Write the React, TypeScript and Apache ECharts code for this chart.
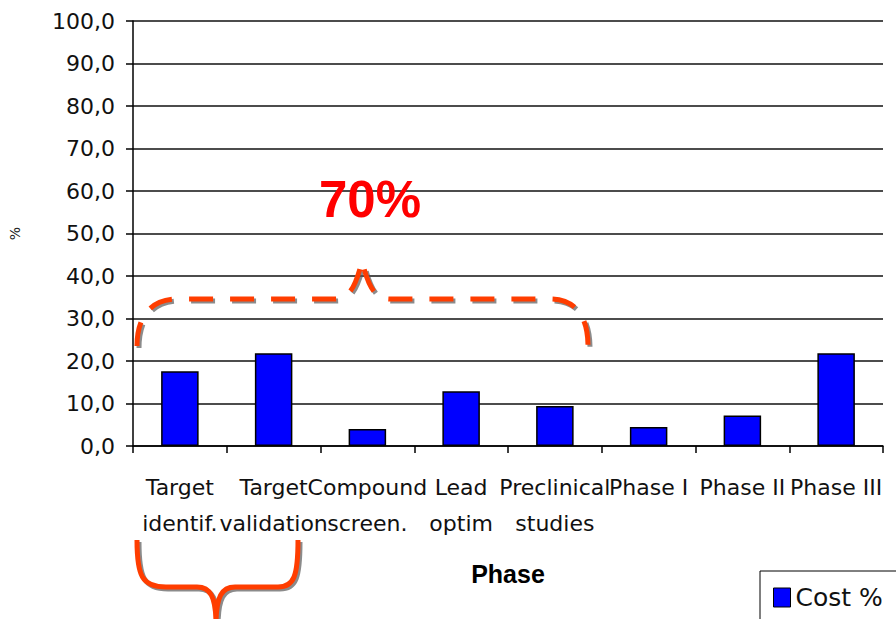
import React, { useEffect, useRef } from "react";
import * as echarts from "echarts";

// Drug discovery cost share per phase
const phases = [
  "Target\nidentif.",
  "Target\nvalidation",
  "Compound\nscreen.",
  "Lead\noptim",
  "Preclinical\nstudies",
  "Phase I",
  "Phase II",
  "Phase III",
];
const costPct = [17.6, 21.8, 4.0, 12.9, 9.4, 4.5, 7.2, 21.8];
const seriesName = "Cost %";
const yTicks = { min: 0, max: 100, step: 10 };
const bracketLabel = "70%";

// Curly brace over the early research phases (dashed) and the one under the first two labels
const TOP_BRACE =
  "M137,346 C137,320 148,299 178,299 L335,299 C350,299 356,285 362,261 C368,285 374,299 390,299 L550,299 C578,299 588,320 588,346";
const BOTTOM_BRACE =
  "M137,540 C137,576 142,587 166,587 L197,587 C210,587 216,596 216,625 M216,625 C216,596 222,587 235,587 L278,587 C294,587 298,576 298,540";

echarts.graphic.registerShape("topBrace", echarts.graphic.extendPath(TOP_BRACE, {}) as any);
echarts.graphic.registerShape("bottomBrace", echarts.graphic.extendPath(BOTTOM_BRACE, {}) as any);

const FONT = "'DejaVu Sans', 'Liberation Sans', Arial, sans-serif";
const BOLD_FONT = "'Liberation Sans', Arial, sans-serif";
const BRACE_COLOR = "#FF3D00";

export default function App() {
  const ref = useRef<HTMLDivElement>(null);

  useEffect(() => {
    if (!ref.current) return;
    const chart = echarts.init(ref.current, undefined, { renderer: "svg" });
    chart.setOption({
      animation: false,
      backgroundColor: "#ffffff",
      textStyle: { fontFamily: FONT },
      grid: { left: 131, top: 21, right: 13, bottom: 173, containLabel: false },
      legend: {
        left: 760,
        top: 571,
        orient: "vertical",
        borderColor: "#000",
        borderWidth: 1,
        padding: [14, 30, 20, 13],
        icon: "rect",
        itemWidth: 17,
        itemHeight: 19,
        itemGap: 6,
        itemStyle: { borderColor: "#000", borderWidth: 1 },
        textStyle: { fontFamily: FONT, fontSize: 25, color: "#111" },
        data: [seriesName],
      },
      xAxis: {
        type: "category",
        data: phases,
        name: "Phase",
        nameLocation: "middle",
        nameGap: 128,
        nameTextStyle: {
          fontFamily: BOLD_FONT,
          fontSize: 25,
          fontWeight: "bold",
          color: "#000",
          verticalAlign: "middle",
        },
        axisLine: { lineStyle: { color: "#000", width: 1.5 } },
        axisTick: { show: true, length: 7, lineStyle: { color: "#000", width: 1.5 } },
        axisLabel: {
          interval: 0,
          margin: 23,
          fontFamily: FONT,
          fontSize: 22,
          lineHeight: 36,
          color: "#111",
        },
        splitLine: { show: false },
      },
      yAxis: {
        type: "value",
        min: yTicks.min,
        max: yTicks.max,
        interval: yTicks.step,
        name: "%",
        nameLocation: "middle",
        nameRotate: 90,
        nameGap: 111,
        nameTextStyle: { fontFamily: FONT, fontSize: 14, color: "#222" },
        axisLine: { show: true, lineStyle: { color: "#000", width: 1.5 } },
        axisTick: { show: true, length: 7, lineStyle: { color: "#000", width: 1.5 } },
        axisLabel: {
          margin: 18,
          fontFamily: FONT,
          fontSize: 22,
          color: "#111",
          formatter: (v: number) => v.toFixed(1).replace(".", ","),
        },
        splitLine: { show: true, lineStyle: { color: "#111", width: 1.5 } },
      },
      series: [
        {
          name: seriesName,
          type: "bar",
          data: costPct,
          barWidth: "40%",
          itemStyle: { color: "#0000FF", borderColor: "#000", borderWidth: 1.5 },
        },
      ],
      graphic: [
        {
          type: "topBrace",
          x: 2,
          y: 2,
          z: 10,
          style: { fill: "none", stroke: "rgba(90,90,90,0.7)", lineWidth: 5, lineDash: [24, 17] },
        },
        {
          type: "topBrace",
          x: 0,
          y: 0,
          z: 11,
          style: { fill: "none", stroke: BRACE_COLOR, lineWidth: 5, lineDash: [24, 17] },
        },
        {
          type: "bottomBrace",
          x: 2,
          y: 2,
          z: 10,
          style: { fill: "none", stroke: "rgba(90,90,90,0.7)", lineWidth: 5 },
        },
        {
          type: "bottomBrace",
          x: 0,
          y: 0,
          z: 11,
          style: { fill: "none", stroke: BRACE_COLOR, lineWidth: 5 },
        },
        {
          type: "text",
          x: 370,
          y: 199,
          z: 12,
          style: {
            text: bracketLabel,
            fontFamily: BOLD_FONT,
            fontSize: 51,
            fontWeight: "bold",
            fill: "#FF0000",
            align: "center",
            verticalAlign: "middle",
          },
        },
      ],
    });
    return () => chart.dispose();
  }, []);

  return <div ref={ref} style={{ width: 896, height: 619, position: "absolute", left: 0, top: 0 }} />;
}
